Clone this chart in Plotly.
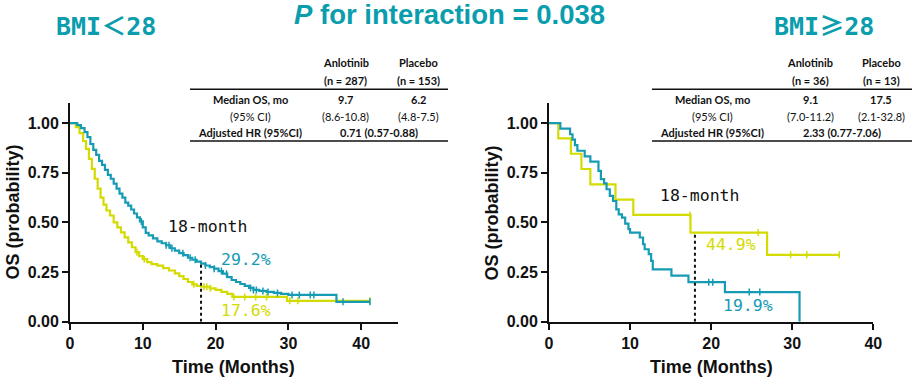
import numpy as np
import plotly.graph_objects as go

W, H = 913, 380

# ---------------- data ----------------
# Left panel: BMI < 28
l_anl_t = [0, 1.0, 1.5, 2.0, 2.4, 2.8, 3.2, 3.6, 4.0, 4.4, 4.8, 5.2, 5.6, 6.0, 6.4, 6.8, 7.2, 7.6,
           8.0, 8.4, 8.8, 9.2, 9.6, 10.0, 10.4, 10.8, 11.4, 12.0, 12.6, 13.2, 13.8, 14.4, 15.0, 15.6,
           16.2, 16.8, 17.4, 18.0, 18.6, 19.2, 19.8, 20.4, 21.0, 21.6, 22.2, 22.8, 23.4, 24.0, 24.6,
           25.2, 26.0, 27.0, 28.0, 29.0, 30.0, 36.6, 41.2]
l_anl_s = [1.0, 0.99, 0.975, 0.955, 0.93, 0.895, 0.865, 0.84, 0.81, 0.79, 0.765, 0.74, 0.72, 0.695,
           0.67, 0.645, 0.625, 0.60, 0.585, 0.565, 0.545, 0.525, 0.505, 0.475, 0.447, 0.435, 0.42,
           0.405, 0.395, 0.385, 0.37, 0.358, 0.345, 0.335, 0.322, 0.312, 0.303, 0.292, 0.283, 0.275,
           0.267, 0.255, 0.242, 0.225, 0.21, 0.20, 0.19, 0.18, 0.17, 0.16, 0.155, 0.15, 0.145, 0.14,
           0.135, 0.10, 0.10]
l_anl_cens = [9.8, 13.2, 13.6, 14.0, 15.5, 16.5, 17.2, 18.6, 19.8, 20.8, 21.5, 24.8, 25.2, 25.6,
              26.5, 27.2, 28.5, 30.5, 31.5, 33.0, 33.5, 37.5, 41.2]

l_pla_t = [0, 0.8, 1.3, 1.8, 2.2, 2.6, 3.0, 3.4, 3.8, 4.2, 4.6, 5.0, 5.5, 6.0, 6.5, 7.0, 7.5, 8.0,
           8.5, 9.0, 9.5, 10.0, 10.6, 11.2, 12.0, 12.8, 13.6, 14.4, 15.0, 15.6, 16.2, 16.8, 17.4,
           18.0, 19.2, 20.0, 20.8, 21.6, 22.3, 29.8, 41.2]
l_pla_s = [1.0, 0.98, 0.95, 0.91, 0.87, 0.82, 0.77, 0.72, 0.67, 0.625, 0.59, 0.56, 0.535, 0.50,
           0.475, 0.45, 0.425, 0.40, 0.375, 0.35, 0.33, 0.315, 0.30, 0.29, 0.282, 0.27, 0.258,
           0.243, 0.23, 0.215, 0.20, 0.188, 0.18, 0.176, 0.168, 0.16, 0.15, 0.14, 0.125, 0.105, 0.105]
l_pla_cens = [9.2, 10.2, 17.0, 18.4, 18.8, 19.3, 22.5, 24.0, 25.5, 27.0, 30.2, 31.3, 41.2]

# Right panel: BMI >= 28
r_anl_t = [0, 1.4, 2.6, 2.9, 3.2, 3.5, 4.4, 5.1, 6.1, 6.4, 6.8, 7.1, 7.5, 7.9, 8.3, 8.6, 9.0, 9.4,
           9.8, 10.0, 11.2, 11.6, 11.8, 12.3, 12.6, 12.8, 15.1, 17.2, 21.7, 30.9]
r_anl_s = [1.0, 0.972, 0.944, 0.917, 0.889, 0.861, 0.833, 0.806, 0.76, 0.718, 0.697, 0.667, 0.634,
           0.608, 0.566, 0.541, 0.524, 0.494, 0.466, 0.449, 0.424, 0.39, 0.365, 0.34, 0.306, 0.264,
           0.232, 0.199, 0.149, 0.0]
r_anl_cens = [19.7, 20.2, 24.7, 26.0]

r_pla_t = [0, 1.15, 2.7, 4.0, 5.1, 8.2, 10.4, 17.45, 26.9, 35.8]
r_pla_s = [1.0, 0.923, 0.846, 0.769, 0.692, 0.615, 0.538, 0.449, 0.337, 0.337]
r_pla_cens = [17.4, 25.8, 29.8, 31.8, 35.8]

month18 = 18
left_pct = [29.2, 17.6]    # Anlotinib, Placebo at 18 months
right_pct = [44.9, 19.9]   # Placebo, Anlotinib at 18 months

arms = ["Anlotinib", "Placebo"]
left_n = [287, 153]
right_n = [36, 13]
left_median = ["9.7", "6.2"]
left_ci = ["(8.6-10.8)", "(4.8-7.5)"]
left_hr = "0.71 (0.57-0.88)"
right_median = ["9.1", "17.5"]
right_ci = ["(7.0-11.2)", "(2.1-32.8)"]
right_hr = "2.33 (0.77-7.06)"

x_ticks = [0, 10, 20, 30, 40]
y_ticks = [0.0, 0.25, 0.5, 0.75, 1.0]

TEAL = "#169BB4"
TEAL_T = "#0A9DAD"
YEL = "#D4DB00"
BLACK = "#111111"


def step_at(ts, ss, t):
    i = np.searchsorted(np.array(ts), t, side="right") - 1
    return ss[max(i, 0)]


fig = go.Figure()


def add_curve(ts, ss, cens, color, xa, ya):
    fig.add_trace(go.Scatter(x=ts, y=ss, mode="lines", line=dict(color=color, width=2.2, shape="hv"),
                             xaxis=xa, yaxis=ya, showlegend=False, hoverinfo="skip"))
    cy = [step_at(ts, ss, c) for c in cens]
    fig.add_trace(go.Scatter(x=cens, y=cy, mode="markers",
                             marker=dict(symbol="line-ns", size=5, line=dict(color=color, width=1.5)),
                             xaxis=xa, yaxis=ya, showlegend=False, hoverinfo="skip"))


add_curve(l_pla_t, l_pla_s, l_pla_cens, YEL, "x", "y")
add_curve(l_anl_t, l_anl_s, l_anl_cens, TEAL, "x", "y")
add_curve(r_pla_t, r_pla_s, r_pla_cens, YEL, "x2", "y2")
add_curve(r_anl_t, r_anl_s, r_anl_cens, TEAL, "x2", "y2")

axis_common = dict(showline=True, linewidth=2, linecolor=BLACK, ticks="outside", ticklen=6,
                   tickwidth=2, tickcolor=BLACK, showgrid=False, zeroline=False, automargin=False,
                   tickfont=dict(family="Liberation Sans, Arial", size=16, color=BLACK, weight="bold"))
ydom = [58.3 / H, 276.7 / H]
fig.update_layout(
    template="none",
    xaxis=dict(domain=[70 / W, 397.6 / W], range=[0, 45], tickvals=x_ticks, anchor="y", **axis_common),
    yaxis=dict(domain=ydom, range=[0, 1.1], tickvals=y_ticks, tickformat=".2f", anchor="x", **axis_common),
    xaxis2=dict(domain=[549 / W, 873.3 / W], range=[0, 40], tickvals=x_ticks, anchor="y2", **axis_common),
    yaxis2=dict(domain=ydom, range=[0, 1.1], tickvals=y_ticks, tickformat=".2f", anchor="x2", **axis_common),
    width=W, height=H, margin=dict(l=0, r=0, t=0, b=0, pad=0, autoexpand=False),
    paper_bgcolor="white", plot_bgcolor="white",
)

# dotted 18-month lines
fig.add_shape(type="line", xref="x", yref="y", x0=month18, x1=month18, y0=0, y1=left_pct[0] / 100,
              line=dict(color=BLACK, width=2, dash="dot"))
fig.add_shape(type="line", xref="x2", yref="y2", x0=month18, x1=month18, y0=0, y1=right_pct[0] / 100,
              line=dict(color=BLACK, width=2, dash="dot"))

ann = []


def px(x, y, text, size, color=BLACK, family="Lato", bold=False, angle=0, xanchor="center"):
    ann.append(dict(xref="paper", yref="paper", x=x / W, y=1 - y / H, text=text, showarrow=False,
                    xanchor=xanchor, yanchor="middle", textangle=angle,
                    font=dict(family=family, size=size, color=color, weight="bold" if bold else "normal")))


def dat(xr, yr, x, y, text, size, color, family="DejaVu Sans Mono"):
    ann.append(dict(xref=xr, yref=yr, x=x, y=y, text=text, showarrow=False, xanchor="center",
                    yanchor="middle", font=dict(family=family, size=size, color=color)))


# titles
ann.append(dict(xref="paper", yref="paper", x=449 / W, y=1 - 14 / H,
                text="<i>P</i> for interaction = 0.038", showarrow=False, xanchor="center",
                yanchor="middle", font=dict(family="Liberation Sans, Arial", size=27.5, color=TEAL_T,
                                            weight="bold")))
px(106, 24, "BMI<span style=\"font-family:'Noto Sans CJK SC'\">＜</span>28", 25, TEAL_T,
   family="DejaVu Sans Mono, Noto Sans CJK SC", bold=True)
px(824, 24, "BMI<span style=\"font-family:'Noto Sans CJK SC'\">≥</span>28", 25, TEAL_T,
   family="DejaVu Sans Mono, Noto Sans CJK SC", bold=True)

# axis titles
for cx in [233.8, 711.2]:
    px(cx, 366.5, "Time (Months)", 18, BLACK, family="Liberation Sans, Arial", bold=True)
for cx in [12, 491]:
    px(cx, 212.5, "OS (probability)", 18, BLACK, family="Liberation Sans, Arial", bold=True, angle=-90)

# in-plot labels
dat("x", "y", 18.9, 0.482, "18-month", 16.5, BLACK)
dat("x", "y", 24.2, 0.315, f"{left_pct[0]:.1f}%", 16.5, TEAL)
dat("x", "y", 24.2, 0.055, f"{left_pct[1]:.1f}%", 16.5, YEL)
dat("x2", "y2", 18.6, 0.637, "18-month", 16.5, BLACK)
dat("x2", "y2", 22.4, 0.387, f"{right_pct[0]:.1f}%", 16.5, YEL)
dat("x2", "y2", 24.5, 0.08, f"{right_pct[1]:.1f}%", 16.5, TEAL)


# tables
def table(lab_x, c1, c2, hr_x, n, med, ci, hr, x0, x1):
    for cx, a, nn, m, c in [(c1, arms[0], n[0], med[0], ci[0]), (c2, arms[1], n[1], med[1], ci[1])]:
        px(cx, 63, a, 11, bold=True)
        px(cx, 80.5, f"(n = {nn})", 11, bold=True)
        px(cx, 100, m, 11, bold=True)
        px(cx, 116, c, 11)
    px(lab_x, 100, "Median OS, mo", 11, bold=True)
    px(lab_x, 116, "(95% CI)", 11)
    px(lab_x, 132, "Adjusted HR (95%CI)", 11, bold=True)
    px(hr_x, 132, hr, 11, bold=True)
    for yy in [89.3, 141]:
        fig.add_shape(type="line", xref="paper", yref="paper", x0=x0 / W, x1=x1 / W,
                      y0=1 - yy / H, y1=1 - yy / H, line=dict(color=BLACK, width=1.5))


table(250, 345.7, 418, 379, left_n, left_median, left_ci, left_hr, 190, 448)
table(712, 810, 881, 841.7, right_n, right_median, right_ci, right_hr, 652, 912)

fig.update_layout(annotations=ann)
fig.write_html("out.html", config={"displayModeBar": False},
               post_script="document.body.style.margin='0';")
